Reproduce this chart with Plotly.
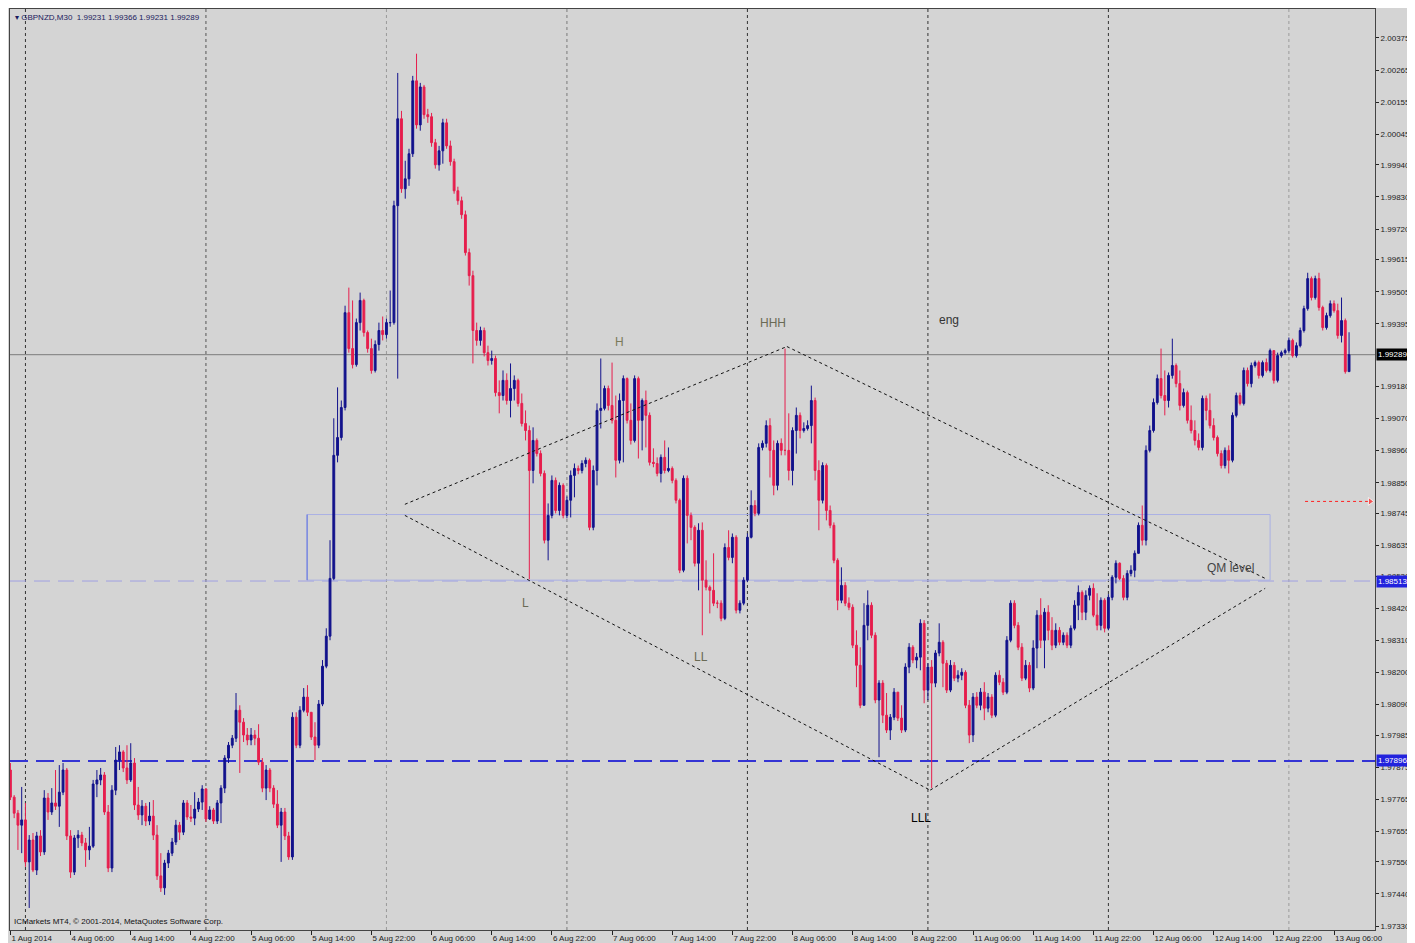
import plotly.graph_objects as go

# page has an 8px body margin, so the figure is drawn 8px smaller and offset
W, H = 1407, 935
ML, MR, MT, MB = 2, 40, 1, 13

# ---------------- data (GBPNZD M30) ----------------
first_open = 1.97865
closes = [
 1.97772,1.97717,1.97676,1.97694,1.97550,1.97625,1.97522,1.97639,1.97584,1.97769,
 1.97721,1.97752,1.97741,1.97789,1.97865,1.97639,1.97515,1.97632,1.97642,1.97615,
 1.97591,1.97604,1.97817,1.97831,1.97848,1.97721,1.97529,1.97796,1.97899,1.97927,
 1.97872,1.97831,1.97889,1.97745,1.97711,1.97741,1.97690,1.97707,1.97642,1.97502,
 1.97461,1.97546,1.97580,1.97618,1.97676,1.97652,1.97752,1.97704,1.97700,1.97731,
 1.97755,1.97800,1.97697,1.97728,1.97690,1.97752,1.97803,1.97906,1.97950,1.97974,
 1.98070,1.98029,1.97985,1.97968,1.97985,1.97974,1.97892,1.97803,1.97865,1.97803,
 1.97748,1.97676,1.97721,1.97639,1.97567,1.98046,1.97950,1.98070,1.98115,1.98063,
 1.97978,1.97950,1.98091,1.98221,1.98324,1.98522,1.98944,1.99005,1.99108,1.99433,
 1.99310,1.99255,1.99399,1.99475,1.99365,1.99310,1.99235,1.99324,1.99372,1.99358,
 1.99399,1.99399,1.99800,2.00098,1.99858,1.99892,1.99978,2.00228,2.00077,2.00207,
 2.00112,2.00105,2.00016,1.99940,1.99988,2.00084,2.00005,1.99951,1.99851,1.99817,
 1.99769,1.99639,1.99560,1.99372,1.99338,1.99372,1.99296,1.99269,1.99276,1.99159,
 1.99149,1.99201,1.99132,1.99173,1.99201,1.99122,1.99053,1.99029,1.98892,1.98995,
 1.98950,1.98882,1.98653,1.98738,1.98858,1.98755,1.98841,1.98738,1.98790,1.98875,
 1.98899,1.98892,1.98916,1.98927,1.98697,1.98892,1.99098,1.99105,1.99173,1.99115,
 1.99064,1.98927,1.99132,1.99207,1.99064,1.98995,1.99207,1.99064,1.99132,1.99081,
 1.98920,1.98916,1.98882,1.98937,1.98892,1.98899,1.98858,1.98790,1.98550,1.98865,
 1.98738,1.98697,1.98574,1.98687,1.98516,1.98492,1.98481,1.98437,1.98437,1.98385,
 1.98628,1.98594,1.98663,1.98413,1.98437,1.98516,1.98663,1.98772,1.98745,1.98971,
 1.98985,1.99046,1.98961,1.98841,1.98985,1.98961,1.98961,1.98892,1.99029,1.99081,
 1.99029,1.99036,1.99046,1.99132,1.98892,1.98790,1.98909,1.98755,1.98704,1.98584,
 1.98447,1.98498,1.98437,1.98423,1.98293,1.98224,1.98087,1.98361,1.98430,1.98327,
 1.98105,1.98163,1.98053,1.98002,1.98046,1.98132,1.98043,1.98002,1.98218,1.98286,
 1.98242,1.98252,1.98368,1.98139,1.98218,1.98163,1.98266,1.98303,1.98231,1.98139,
 1.98224,1.98180,1.98190,1.98200,1.98087,1.97985,1.98115,1.98087,1.98132,1.98077,
 1.98115,1.98053,1.98190,1.98166,1.98132,1.98310,1.98437,1.98361,1.98286,1.98180,
 1.98224,1.98146,1.98283,1.98396,1.98310,1.98406,1.98344,1.98293,1.98344,1.98303,
 1.98327,1.98293,1.98351,1.98430,1.98474,1.98406,1.98464,1.98488,1.98396,1.98361,
 1.98447,1.98351,1.98457,1.98526,1.98574,1.98522,1.98457,1.98539,1.98550,1.98608,
 1.98704,1.98653,1.98961,1.99029,1.99125,1.99207,1.99149,1.99132,1.99218,1.99252,
 1.99190,1.99115,1.99159,1.99064,1.99029,1.98995,1.98971,1.99139,1.99098,1.99046,
 1.99005,1.98950,1.98909,1.98961,1.98927,1.99081,1.99149,1.99122,1.99235,1.99190,
 1.99252,1.99262,1.99218,1.99262,1.99235,1.99303,1.99201,1.99286,1.99296,1.99303,
 1.99338,1.99286,1.99320,1.99372,1.99447,1.99550,1.99485,1.99550,1.99451,1.99382,
 1.99423,1.99464,1.99440,1.99355,1.99406,1.99231,1.99289]
highs = [
 1.97889,1.97779,1.97728,1.97807,1.97752,1.97642,1.97649,1.97653,1.97659,1.97796,
 1.97786,1.97803,1.97865,1.97882,1.97889,1.97872,1.97659,1.97642,1.97659,1.97653,
 1.97632,1.97670,1.97831,1.97865,1.97872,1.97858,1.97745,1.97813,1.97944,1.97950,
 1.97933,1.97950,1.97957,1.97906,1.97807,1.97762,1.97752,1.97755,1.97762,1.97676,
 1.97580,1.97557,1.97591,1.97632,1.97694,1.97687,1.97762,1.97762,1.97745,1.97789,
 1.97769,1.97813,1.97803,1.97741,1.97735,1.97762,1.97813,1.97916,1.97961,1.97985,
 1.98129,1.98087,1.98043,1.98009,1.98009,1.98002,1.98022,1.97906,1.97882,1.97872,
 1.97813,1.97796,1.97735,1.97735,1.97653,1.98063,1.98063,1.98084,1.98146,1.98156,
 1.98063,1.98029,1.98105,1.98242,1.98351,1.98653,1.99071,1.99177,1.99132,1.99457,
 1.99519,1.99475,1.99413,1.99502,1.99481,1.99372,1.99344,1.99338,1.99399,1.99420,
 1.99413,1.99509,1.99817,2.00255,2.00125,1.99954,1.99995,2.00245,2.00321,2.00221,
 2.00214,2.00132,2.00118,2.00029,2.00005,2.00098,2.00098,2.00023,1.99961,1.99865,
 1.99831,1.99783,1.99653,1.99577,1.99399,1.99385,1.99382,1.99320,1.99303,1.99286,
 1.99201,1.99235,1.99225,1.99259,1.99218,1.99207,1.99156,1.99098,1.99046,1.99040,
 1.99002,1.98961,1.98892,1.98779,1.98875,1.98868,1.98851,1.98848,1.98803,1.98892,
 1.98916,1.98909,1.98927,1.98937,1.98933,1.98909,1.99122,1.99276,1.99183,1.99183,
 1.99262,1.99149,1.99156,1.99218,1.99211,1.99122,1.99218,1.99214,1.99139,1.99166,
 1.99091,1.98968,1.98937,1.98947,1.98995,1.98971,1.98906,1.98865,1.98796,1.98875,
 1.98875,1.98748,1.98704,1.98711,1.98714,1.98584,1.98498,1.98608,1.98447,1.98447,
 1.98642,1.98687,1.98676,1.98670,1.98447,1.98526,1.98676,1.98824,1.98790,1.98985,
 1.98995,1.99064,1.99071,1.98995,1.98995,1.99002,1.99310,1.99088,1.99040,1.99108,
 1.99091,1.99057,1.99064,1.99183,1.99142,1.98927,1.98920,1.98916,1.98772,1.98714,
 1.98591,1.98560,1.98509,1.98457,1.98433,1.98344,1.98286,1.98437,1.98481,1.98440,
 1.98337,1.98173,1.98173,1.98129,1.98057,1.98146,1.98132,1.98087,1.98231,1.98300,
 1.98293,1.98266,1.98382,1.98379,1.98231,1.98242,1.98276,1.98368,1.98310,1.98242,
 1.98242,1.98235,1.98207,1.98214,1.98207,1.98105,1.98129,1.98132,1.98146,1.98166,
 1.98129,1.98125,1.98200,1.98207,1.98180,1.98324,1.98447,1.98447,1.98372,1.98300,
 1.98242,1.98235,1.98310,1.98413,1.98454,1.98420,1.98430,1.98389,1.98368,1.98355,
 1.98337,1.98337,1.98361,1.98447,1.98498,1.98481,1.98481,1.98498,1.98505,1.98471,
 1.98457,1.98454,1.98468,1.98533,1.98584,1.98577,1.98533,1.98550,1.98567,1.98618,
 1.98714,1.98772,1.98978,1.99046,1.99139,1.99221,1.99310,1.99235,1.99228,1.99344,
 1.99259,1.99235,1.99173,1.99166,1.99115,1.99064,1.99019,1.99149,1.99149,1.99156,
 1.99071,1.99012,1.98961,1.98971,1.98978,1.99091,1.99159,1.99159,1.99245,1.99245,
 1.99262,1.99269,1.99269,1.99269,1.99276,1.99310,1.99303,1.99296,1.99303,1.99310,
 1.99348,1.99344,1.99331,1.99382,1.99457,1.99570,1.99557,1.99560,1.99570,1.99457,
 1.99433,1.99475,1.99475,1.99464,1.99485,1.99413,1.99366]
lows = [
 1.97762,1.97700,1.97591,1.97580,1.97533,1.97392,1.97515,1.97505,1.97570,1.97574,
 1.97694,1.97711,1.97728,1.97670,1.97779,1.97625,1.97495,1.97505,1.97598,1.97604,
 1.97533,1.97557,1.97598,1.97772,1.97813,1.97711,1.97515,1.97515,1.97779,1.97865,
 1.97858,1.97817,1.97824,1.97728,1.97694,1.97676,1.97673,1.97676,1.97625,1.97488,
 1.97447,1.97437,1.97529,1.97570,1.97608,1.97625,1.97642,1.97694,1.97687,1.97676,
 1.97721,1.97728,1.97687,1.97694,1.97680,1.97680,1.97683,1.97786,1.97889,1.97940,
 1.97961,1.97855,1.97961,1.97950,1.97950,1.97950,1.97882,1.97789,1.97762,1.97789,
 1.97735,1.97666,1.97550,1.97625,1.97557,1.97557,1.97940,1.97940,1.98063,1.98050,
 1.97968,1.97899,1.97940,1.98084,1.98214,1.98310,1.98516,1.98920,1.98995,1.99098,
 1.99296,1.99242,1.99248,1.99372,1.99351,1.99296,1.99224,1.99228,1.99303,1.99338,
 1.99344,1.99385,1.99392,1.99207,1.99844,1.99824,1.99868,1.99967,2.00064,2.00057,
 2.00098,2.00084,2.00002,1.99927,1.99920,1.99944,1.99995,1.99937,1.99841,1.99803,
 1.99755,1.99629,1.99526,1.99259,1.99320,1.99320,1.99283,1.99252,1.99255,1.99146,
 1.99088,1.99132,1.99118,1.99074,1.99132,1.99111,1.99043,1.98995,1.98519,1.98848,
 1.98940,1.98872,1.98642,1.98584,1.98728,1.98745,1.98738,1.98728,1.98728,1.98731,
 1.98800,1.98879,1.98882,1.98903,1.98687,1.98687,1.98841,1.99036,1.99098,1.99098,
 1.99053,1.98868,1.98916,1.98920,1.99053,1.98981,1.98988,1.98933,1.98961,1.98971,
 1.98909,1.98903,1.98872,1.98851,1.98882,1.98886,1.98848,1.98779,1.98540,1.98543,
 1.98642,1.98653,1.98563,1.98481,1.98327,1.98481,1.98402,1.98427,1.98420,1.98375,
 1.98379,1.98584,1.98574,1.98402,1.98402,1.98430,1.98509,1.98659,1.98735,1.98738,
 1.98961,1.98971,1.98868,1.98807,1.98824,1.98944,1.98944,1.98858,1.98841,1.98950,
 1.99002,1.99022,1.99029,1.98985,1.98858,1.98687,1.98779,1.98721,1.98694,1.98574,
 1.98413,1.98437,1.98427,1.98413,1.98283,1.98149,1.98077,1.98087,1.98310,1.98317,
 1.98094,1.97909,1.98026,1.97992,1.97968,1.98036,1.98033,1.97992,1.97995,1.98197,
 1.98231,1.98214,1.98207,1.98094,1.98105,1.97803,1.98149,1.98255,1.98149,1.98129,
 1.98132,1.98170,1.98166,1.98173,1.98077,1.97957,1.97961,1.98077,1.98070,1.98036,
 1.98063,1.98043,1.98046,1.98156,1.98122,1.98125,1.98303,1.98351,1.98276,1.98170,
 1.98173,1.98132,1.98139,1.98214,1.98283,1.98214,1.98310,1.98276,1.98283,1.98293,
 1.98293,1.98283,1.98283,1.98344,1.98379,1.98379,1.98379,1.98447,1.98389,1.98344,
 1.98344,1.98337,1.98344,1.98447,1.98505,1.98516,1.98447,1.98447,1.98529,1.98526,
 1.98611,1.98635,1.98635,1.98954,1.99022,1.99118,1.99139,1.99081,1.99108,1.99207,
 1.99177,1.99098,1.99108,1.99053,1.99019,1.98978,1.98961,1.98961,1.99064,1.99036,
 1.98995,1.98940,1.98899,1.98899,1.98882,1.98920,1.99074,1.99115,1.99115,1.99180,
 1.99177,1.99245,1.99207,1.99211,1.99228,1.99228,1.99190,1.99194,1.99279,1.99289,
 1.99296,1.99279,1.99279,1.99314,1.99365,1.99440,1.99475,1.99478,1.99440,1.99372,
 1.99375,1.99416,1.99433,1.99344,1.99331,1.99224,1.99231]
opens = [first_open] + closes[:-1]
bars = list(range(len(closes)))

time_labels = ["1 Aug 2014", "4 Aug 06:00", "4 Aug 14:00", "4 Aug 22:00", "5 Aug 06:00",
               "5 Aug 14:00", "5 Aug 22:00", "6 Aug 06:00", "6 Aug 14:00", "6 Aug 22:00",
               "7 Aug 06:00", "7 Aug 14:00", "7 Aug 22:00", "8 Aug 06:00", "8 Aug 14:00",
               "8 Aug 22:00", "11 Aug 06:00", "11 Aug 14:00", "11 Aug 22:00", "12 Aug 06:00",
               "12 Aug 14:00", "12 Aug 22:00", "13 Aug 06:00"]
label_bars = [0, 16, 32, 48, 64, 80, 96, 112, 128, 144, 160, 176, 192, 208, 224, 240,
              256, 272, 288, 304, 320, 336, 352]
day_separators = [4, 52, 100, 148, 196, 244, 292, 340]
separator_colors = ["#333333", "#555555", "#9a9a9a", "#7a7a7a", "#333333", "#333333", "#333333", "#9a9a9a"]

price_ticks = [2.00375, 2.00265, 2.00155, 2.00045, 1.99940, 1.99830, 1.99720, 1.99615,
               1.99505, 1.99395, 1.99180, 1.99070, 1.98960, 1.98850, 1.98745, 1.98635,
               1.98530, 1.98420, 1.98310, 1.98200, 1.98090, 1.97985, 1.97875, 1.97765,
               1.97655, 1.97550, 1.97440, 1.97330]

bid_price = 1.99289
qm_level = 1.98513
support_level = 1.97896
zone_bars = [78.9, 335.0]
zone_prices = [1.98516, 1.98741]

# QM diamond: (bar, price) pairs
pattern_lines = [
    [(104.9, 1.98776), (206.5, 1.99317)],
    [(206.5, 1.99317), (333.7, 1.98522)],
    [(104.9, 1.98738), (244.6, 1.97796)],
    [(244.6, 1.97796), (333.7, 1.98488)],
]
pattern_labels = [
    ("H", 161.9, 1.99331, "#7a7a5a"),
    ("HHH", 202.8, 1.99399, "#6a6a55"),
    ("eng", 249.6, 1.99409, "#333333"),
    ("L", 136.9, 1.98437, "#6a6a55"),
    ("LL", 183.7, 1.98252, "#6a6a55"),
    ("LLL", 242.2, 1.97700, "#000000"),
    ("QM level", 324.4, 1.98557, "#444444"),
]
arrow_bars = [344.3, 361.6]
arrow_prices = [1.98786, 1.98786]

x_range = [-0.11, 362.9]
y_range = [1.973165, 2.004743]

# ---------------- figure ----------------
fig = go.Figure()
fig.add_trace(go.Candlestick(
    x=bars, open=opens, high=highs, low=lows, close=closes,
    increasing=dict(line=dict(color="#12128c", width=1), fillcolor="#12128c"),
    decreasing=dict(line=dict(color="#e61e4d", width=1), fillcolor="#e61e4d"),
    whiskerwidth=0, hoverinfo="skip", showlegend=False))

fig.add_trace(go.Scatter(
    x=arrow_bars, y=arrow_prices, mode="lines+markers",
    line=dict(color="#ff2020", width=1, dash="dot"),
    marker=dict(symbol=["circle", "triangle-right"], size=[0, 7], color="#ff2020"),
    hoverinfo="skip", showlegend=False))

shapes = []
for s, c in zip(day_separators, separator_colors):
    shapes.append(dict(type="line", xref="x", yref="paper", x0=s, x1=s, y0=0, y1=1,
                       line=dict(color=c, width=1, dash="dot"), layer="below"))
shapes.append(dict(type="line", xref="paper", yref="y", x0=0, x1=1, y0=bid_price, y1=bid_price,
                   line=dict(color="#7c7c7c", width=1), layer="below"))
shapes.append(dict(type="line", xref="paper", yref="y", x0=0, x1=1, y0=qm_level, y1=qm_level,
                   line=dict(color="#a0a0e2", width=1, dash="16px,8px"), layer="below"))
shapes.append(dict(type="line", xref="paper", yref="y", x0=0, x1=1, y0=support_level, y1=support_level,
                   line=dict(color="#3434d4", width=2, dash="18px,8px"), layer="below"))
shapes.append(dict(type="rect", xref="x", yref="y", x0=zone_bars[0], x1=zone_bars[1],
                   y0=zone_prices[0], y1=zone_prices[1],
                   line=dict(color="#aab0e4", width=1), fillcolor="rgba(0,0,0,0)", layer="below"))
shapes.append(dict(type="line", xref="x", yref="y", x0=zone_bars[0], x1=zone_bars[0],
                   y0=zone_prices[0], y1=zone_prices[1],
                   line=dict(color="#5c70e0", width=1), layer="below"))
for (x0, y0), (x1, y1) in pattern_lines:
    shapes.append(dict(type="line", xref="x", yref="y", x0=x0, y0=y0, x1=x1, y1=y1,
                       line=dict(color="#111111", width=1, dash="dot")))

annotations = []
for txt, bx, py, col in pattern_labels:
    annotations.append(dict(x=bx, y=py, xref="x", yref="y", text=txt, showarrow=False,
                            font=dict(family="Liberation Sans, Arial", size=12, color=col)))
for price, bg in [(bid_price, "#000000"), (qm_level, "#2222dd"), (support_level, "#2222dd")]:
    annotations.append(dict(x=1, y=price, xref="paper", yref="y", xanchor="left", xshift=1,
                            text=f"{price:.5f}", showarrow=False, bgcolor=bg, borderpad=1,
                            font=dict(family="Liberation Sans, Arial", size=8, color="white")))
annotations.append(dict(x=0, y=1, xref="paper", yref="paper", xanchor="left", yanchor="top",
                        xshift=3, yshift=-2, showarrow=False,
                        text="▾ GBPNZD,M30  1.99231 1.99366 1.99231 1.99289",
                        font=dict(family="Liberation Sans, Arial", size=8, color="#1b1b5e")))
annotations.append(dict(x=0, y=0, xref="paper", yref="paper", xanchor="left", yanchor="bottom",
                        xshift=2, yshift=2, showarrow=False,
                        text="ICMarkets MT4, © 2001-2014, MetaQuotes Software Corp.",
                        font=dict(family="Liberation Sans, Arial", size=8, color="#111111")))

fig.update_layout(
    width=W, height=H, margin=dict(l=ML, r=MR, t=MT, b=MB, autoexpand=False),
    paper_bgcolor="#d4d4d4", plot_bgcolor="#d4d4d4",
    shapes=shapes, annotations=annotations, showlegend=False,
    font=dict(family="Liberation Sans, Arial", size=8, color="#222222"),
    xaxis=dict(range=x_range, tickmode="array", tickvals=label_bars, ticktext=time_labels,
               ticks="outside", ticklen=4, tickcolor="#222222", ticklabelposition="outside right",
               tickfont=dict(size=8, color="#222222"), showgrid=False, zeroline=False,
               showline=True, linecolor="#444444", linewidth=1, mirror=True,
               rangeslider=dict(visible=False), fixedrange=True),
    yaxis=dict(range=y_range, side="right", tickmode="array", tickvals=price_ticks,
               ticktext=[f"{v:.5f}" for v in price_ticks], ticks="outside", ticklen=3,
               tickcolor="#222222", tickfont=dict(size=8, color="#222222"),
               showgrid=False, zeroline=False, showline=True, linecolor="#444444",
               linewidth=1, mirror=True, fixedrange=True),
)

fig.write_html("out.html")
